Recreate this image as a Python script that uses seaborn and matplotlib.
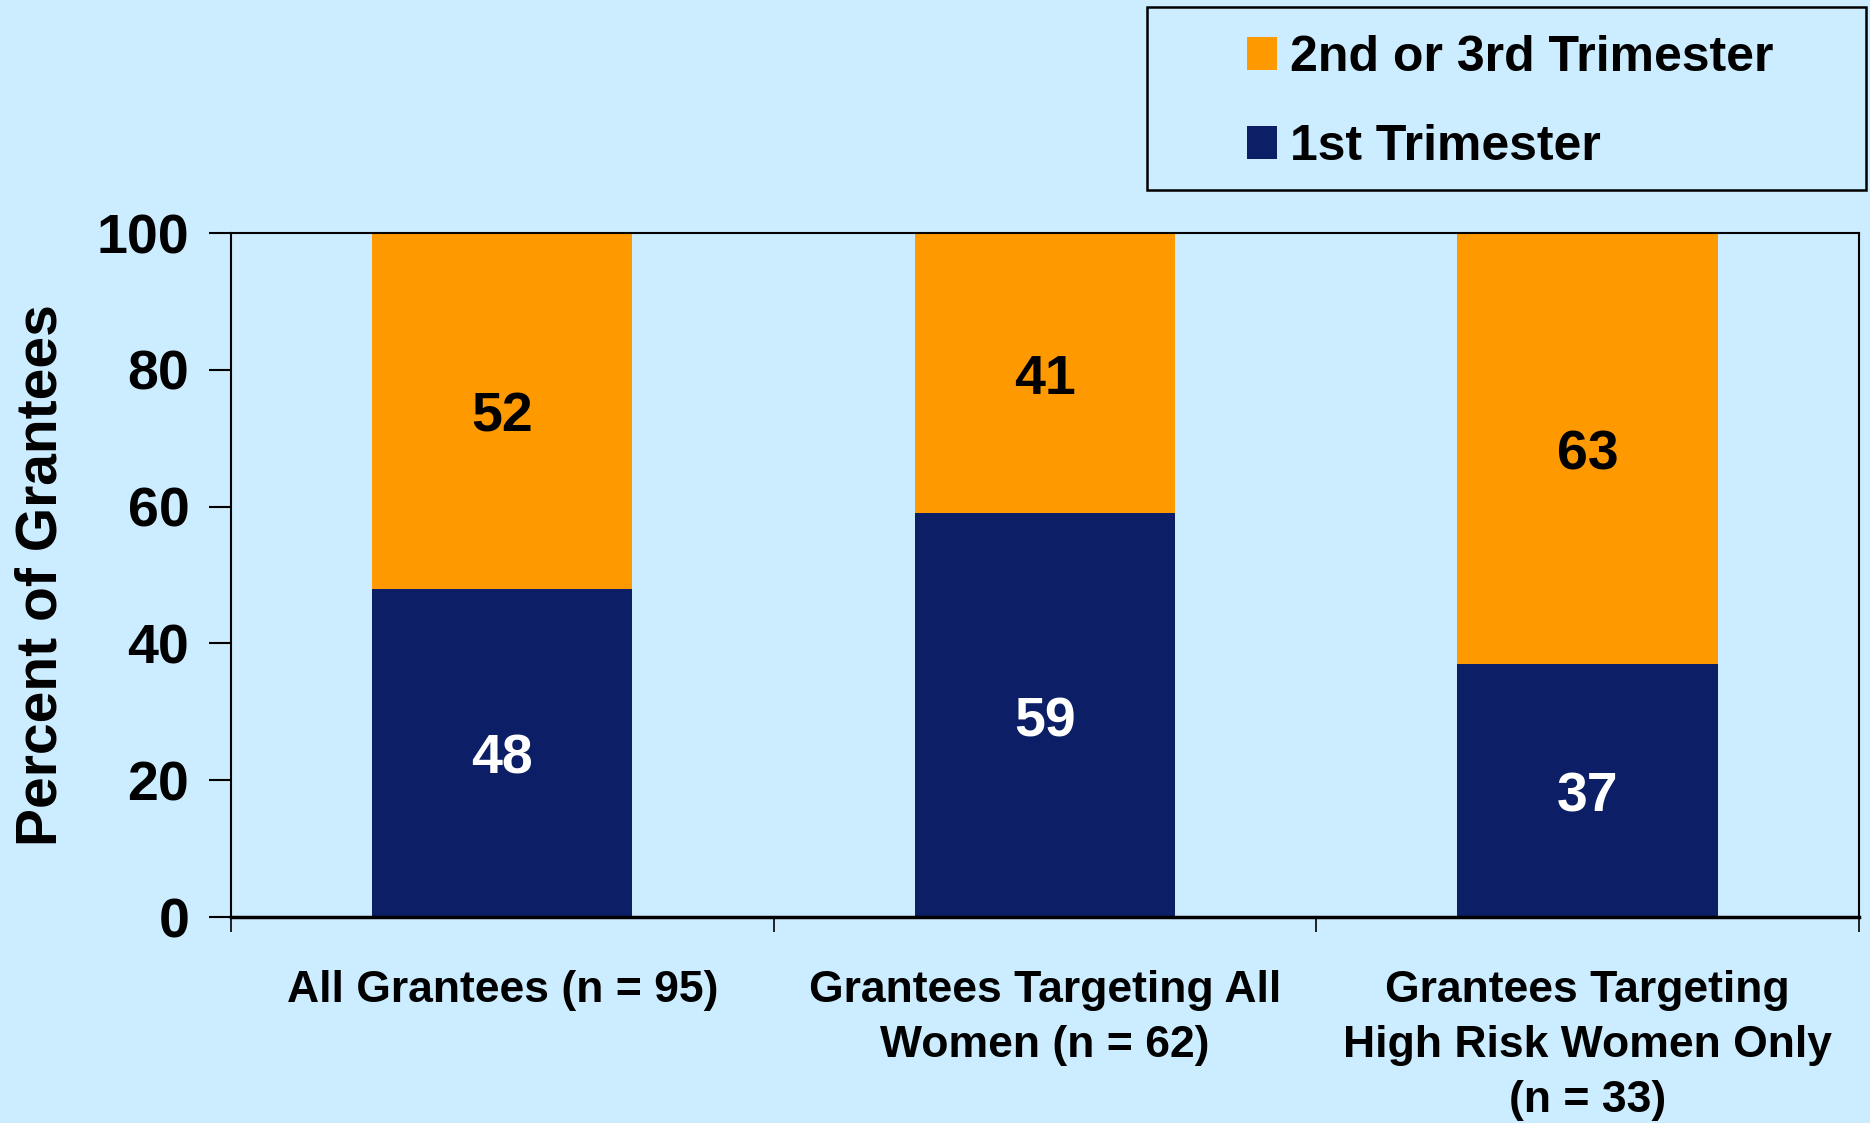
import seaborn as sns
import matplotlib.pyplot as plt
from matplotlib.patches import Patch, Rectangle

# data
categories = [
    "All Grantees (n = 95)",
    "Grantees Targeting All\nWomen (n = 62)",
    "Grantees Targeting\nHigh Risk Women Only\n(n = 33)",
]
first_trimester = [48, 59, 37]
later_trimester = [52, 41, 63]
series_names = ["2nd or 3rd Trimester", "1st Trimester"]

BG = "#CCECFF"
ORANGE = "#FF9900"
NAVY = "#0B1E66"


def set_config():
    sns.set_theme(style="white")
    plt.rcParams["font.family"] = ["Liberation Sans", "DejaVu Sans"]
    plt.rcParams["font.weight"] = "bold"
    for key in ["text.color", "axes.labelcolor", "xtick.color", "ytick.color"]:
        plt.rcParams[key] = "black"


def draw():
    fig = plt.figure(figsize=(18.7, 11.23), dpi=100, facecolor=BG)
    ax = fig.add_axes([0.1235, 0.1834, 0.8705, 0.6091])
    ax.set_facecolor(BG)

    totals = [a + b for a, b in zip(first_trimester, later_trimester)]
    sns.barplot(x=categories, y=totals, color=ORANGE, saturation=1,
                width=0.48, linewidth=0, ax=ax)
    sns.barplot(x=categories, y=first_trimester, color=NAVY, saturation=1,
                width=0.48, linewidth=0, ax=ax)

    # segment labels
    for i, (a, b) in enumerate(zip(first_trimester, later_trimester)):
        ax.annotate(f"{a}", (i, a / 2), xytext=(0, -5), textcoords="offset points",
                    ha="center", va="center", color="white",
                    fontsize=40, fontweight="bold")
        ax.annotate(f"{b}", (i, a + b / 2), xytext=(0, -5), textcoords="offset points",
                    ha="center", va="center", color="black",
                    fontsize=40, fontweight="bold")

    ax.set_xlim(-0.5, len(categories) - 0.5)
    ax.set_ylim(0, 100)
    ax.set_yticks(range(0, 101, 20))
    ax.tick_params(axis="y", which="major", left=True, direction="out", length=16,
                   width=1.5, color="black", pad=14, labelsize=40)
    ax.set_xticks(range(len(categories)))
    ax.set_xticklabels(categories, fontsize=32, fontweight="bold",
                       linespacing=1.44)
    ax.set_xticks([x - 0.5 for x in range(len(categories) + 1)], minor=True)
    ax.tick_params(axis="x", which="major", bottom=False, length=0, pad=38)
    ax.tick_params(axis="x", which="minor", bottom=True, direction="out", length=11,
                   width=1.2, color="black")

    ax.set_xlabel("")
    ax.set_ylabel("Percent of Grantees", fontsize=41, fontweight="bold")
    ax.yaxis.set_label_coords(-0.1, 0.5)

    for side in ["left", "top", "right"]:
        ax.spines[side].set_visible(True)
        ax.spines[side].set_color("black")
        ax.spines[side].set_linewidth(1.5)
    ax.spines["bottom"].set_color("black")
    ax.spines["bottom"].set_linewidth(2.5)

    # legend box
    fig.patches.append(Rectangle((0.6134, 0.831), 0.3845, 0.1628,
                                 transform=fig.transFigure, facecolor=BG,
                                 edgecolor="black", linewidth=1.8))
    handles = [Patch(facecolor=ORANGE, edgecolor="none"),
               Patch(facecolor=NAVY, edgecolor="none")]
    fig.legend(handles, series_names, loc="upper left",
               bbox_to_anchor=(0.6536, 0.991), frameon=False,
               prop={"size": 36, "weight": "bold"},
               handlelength=0.6, handleheight=0.66, handletextpad=0.26,
               labelspacing=0.86, borderpad=0)

    fig.savefig("out.png", dpi=100, facecolor=BG)


def main():
    set_config()
    draw()


if __name__ == "__main__":
    main()
